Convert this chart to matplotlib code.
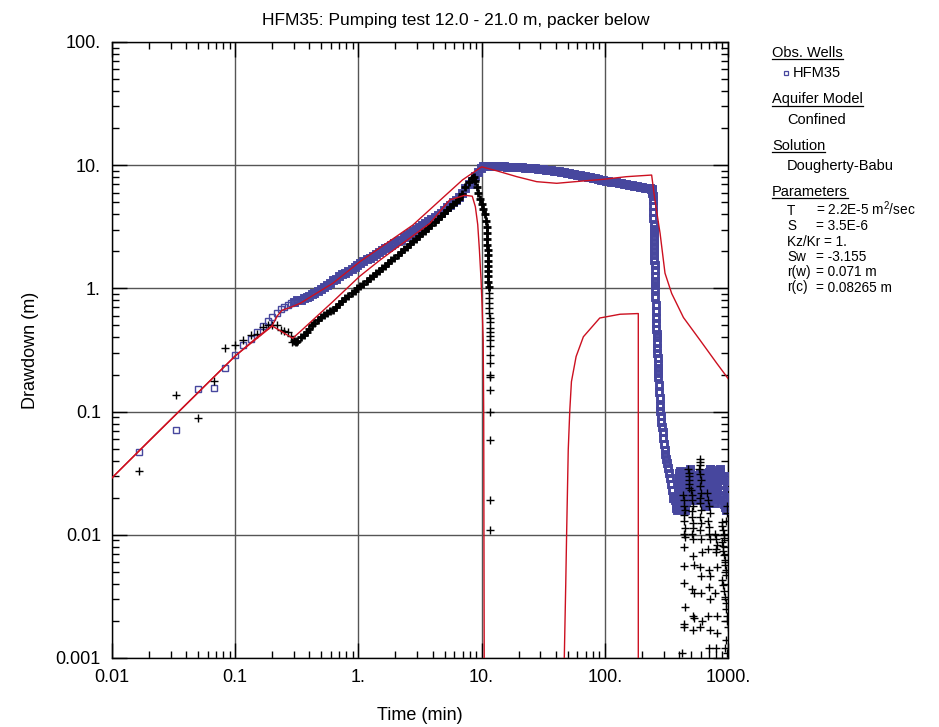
import matplotlib
matplotlib.use("Agg")
import matplotlib.pyplot as plt
from matplotlib.lines import Line2D
from matplotlib.ticker import FixedLocator, FixedFormatter, LogLocator, NullFormatter

plt.rcParams["font.family"] = ["Liberation Sans", "DejaVu Sans"]
plt.rcParams["mathtext.fontset"] = "custom"
plt.rcParams["mathtext.rm"] = "Liberation Sans"
plt.rcParams["mathtext.it"] = "Liberation Sans"

# ---- observed drawdown, HFM35 (time in min, drawdown in m) ----------------
obs_t_early = [0.0167, 0.0333, 0.05, 0.0667, 0.0833, 0.1, 0.1167, 0.1333, 0.15,
               0.1667, 0.1833, 0.2, 0.2167, 0.2333, 0.25, 0.2667, 0.2833]
obs_d_early = [0.047, 0.071, 0.152, 0.155, 0.226, 0.288, 0.347, 0.386, 0.44,
               0.495, 0.54, 0.586, 0.628, 0.675, 0.706, 0.73, 0.755]

obs_t_pump = [0.3, 0.32, 0.34, 0.36, 0.38, 0.40, 0.42, 0.44, 0.47, 0.50, 0.53,
              0.56, 0.59, 0.62, 0.66, 0.70, 0.74, 0.78, 0.83, 0.88, 0.93, 0.98,
              1.04, 1.10, 1.17, 1.24, 1.31, 1.39, 1.47, 1.56, 1.65, 1.75, 1.85,
              1.96, 2.08, 2.2, 2.33, 2.47, 2.62, 2.77, 2.94, 3.11, 3.3, 3.5,
              3.7, 3.92, 4.15, 4.4, 4.66, 4.94, 5.23, 5.54, 5.87, 6.22, 6.59,
              6.98, 7.4, 7.84, 8.3, 8.8, 9.3, 9.8, 10.2]
obs_d_pump = [0.78, 0.80, 0.81, 0.83, 0.85, 0.875, 0.90, 0.92, 0.96, 0.99, 1.03,
              1.07, 1.10, 1.16, 1.20, 1.25, 1.30, 1.34, 1.39, 1.45, 1.50, 1.55,
              1.60, 1.66, 1.72, 1.78, 1.84, 1.91, 1.97, 2.04, 2.11, 2.18, 2.25,
              2.33, 2.41, 2.49, 2.59, 2.69, 2.80, 2.91, 3.03, 3.15, 3.27, 3.40,
              3.53, 3.67, 3.81, 3.96, 4.13, 4.33, 4.54, 4.76, 5.00, 5.25, 5.50,
              5.98, 6.48, 6.98, 7.5, 8.15, 8.8, 9.45, 9.85]

obs_t_plateau = [10.6, 11, 11.5, 12, 12.6, 13.2, 13.9, 14.6, 15.3, 16, 16.8,
                 17.6, 18.5, 19.4, 20.4, 21.4, 22.5, 23.6, 24.8, 26, 27.3, 28.7,
                 30.1, 31.6, 33.2, 34.9, 36.6, 38.4, 40.4, 42.4, 44.5, 46.7, 49,
                 51.5, 54, 56.7, 59.6, 62.5, 65.7, 69, 72.4, 76, 79.8, 83.8, 88,
                 92.4, 97, 102, 107, 112, 118, 124, 130, 136, 143, 150, 158, 166,
                 174, 183, 192, 201, 211, 222, 233, 238]
obs_d_plateau = [9.88, 9.88, 9.87, 9.86, 9.85, 9.83, 9.81, 9.79, 9.77, 9.75, 9.72,
                 9.70, 9.67, 9.65, 9.62, 9.59, 9.56, 9.53, 9.50, 9.47, 9.44, 9.40,
                 9.34, 9.28, 9.22, 9.16, 9.10, 9.03, 8.96, 8.90, 8.83, 8.76, 8.69,
                 8.60, 8.52, 8.44, 8.36, 8.28, 8.20, 8.12, 8.04, 7.96, 7.88, 7.80,
                 7.72, 7.63, 7.55, 7.49, 7.43, 7.37, 7.31, 7.25, 7.19, 7.13, 7.07,
                 7.01, 6.95, 6.89, 6.83, 6.77, 6.71, 6.65, 6.59, 6.53, 6.48, 6.45]

obs_t_recovery = [240, 241, 242, 243, 244, 245, 246, 247, 248, 249, 249.5, 250,
                  250.5, 251, 251.5, 252, 252.5, 253, 253.5, 254, 254.5, 255,
                  255.5, 256, 257, 258, 259, 260, 261, 262, 263, 264, 265, 266,
                  267, 268, 269, 270, 271, 272, 274, 276, 278, 280, 282, 285, 288,
                  291, 294, 298, 302, 306, 310, 315, 320, 326, 332, 338, 345, 352,
                  358]
obs_d_recovery = [6.4, 6.3, 6.15, 6.0, 5.6, 5.2, 4.7, 4.2, 3.75, 3.3, 3.05, 2.8,
                  2.6, 2.4, 2.2, 2.0, 1.85, 1.7, 1.55, 1.4, 1.27, 1.15, 1.06,
                  0.98, 0.85, 0.74, 0.65, 0.58, 0.52, 0.47, 0.43, 0.40, 0.36,
                  0.33, 0.30, 0.27, 0.245, 0.225, 0.205, 0.19, 0.165, 0.145,
                  0.128, 0.112, 0.102, 0.092, 0.083, 0.075, 0.068, 0.061, 0.055,
                  0.049, 0.045, 0.041, 0.038, 0.035, 0.032, 0.029, 0.026, 0.023,
                  0.020]

obs_t_tail = [365, 370, 375, 380, 384, 386, 388, 390, 392, 395, 397, 399, 401,
              403, 405, 409, 413, 417, 421, 425, 429, 433, 437, 441, 446, 450,
              454, 458, 462, 466, 470, 474, 478, 482, 486, 490, 495, 500, 505,
              510, 515, 520, 525, 530, 535, 542, 549, 556, 563, 570, 577, 584,
              591, 598, 605, 611, 617, 623, 629, 635, 641, 647, 653, 659, 665,
              670, 675, 680, 685, 690, 695, 700, 705, 710, 715, 720, 727, 734,
              741, 748, 755, 762, 769, 776, 784, 791, 798, 805, 812, 819, 826,
              833, 840, 848, 856, 866, 876, 886, 896, 906, 916, 926, 936, 948,
              960, 966, 972, 978, 984, 990, 995, 1000]
obs_d_tail = [0.020, 0.019, 0.0175, 0.0165, 0.0158, 0.0172, 0.0188, 0.0205,
              0.0222, 0.024, 0.026, 0.0283, 0.030, 0.0318, 0.033, 0.031, 0.0285,
              0.026, 0.024, 0.022, 0.0203, 0.0188, 0.0175, 0.0166, 0.016, 0.0172,
              0.0186, 0.020, 0.0218, 0.0237, 0.0257, 0.028, 0.030, 0.032, 0.0332,
              0.034, 0.032, 0.0295, 0.027, 0.025, 0.023, 0.0215, 0.0203, 0.0195,
              0.019, 0.0205, 0.022, 0.024, 0.026, 0.028, 0.0298, 0.0305, 0.0305,
              0.0315, 0.032, 0.030, 0.028, 0.026, 0.024, 0.022, 0.0205, 0.019,
              0.018, 0.0173, 0.017, 0.0185, 0.020, 0.0218, 0.0238, 0.026, 0.0283,
              0.0305, 0.0322, 0.0333, 0.034, 0.034, 0.032, 0.0298, 0.0275,
              0.0255, 0.0235, 0.0218, 0.0202, 0.019, 0.018, 0.0195, 0.021,
              0.0228, 0.0247, 0.0267, 0.0288, 0.031, 0.0325, 0.0335, 0.034,
              0.0322, 0.030, 0.0278, 0.0255, 0.0232, 0.021, 0.0192, 0.0178,
              0.0168, 0.016, 0.0178, 0.020, 0.0225, 0.025, 0.0272, 0.0288, 0.030]

# ---- derivative data (black crosses) -------------------------------------
der_t_early = [0.0167, 0.0333, 0.05, 0.0667, 0.0833, 0.1, 0.1167, 0.1333, 0.15,
               0.1667, 0.1833, 0.2, 0.2167, 0.2333, 0.25, 0.2667, 0.2833, 0.29]
der_d_early = [0.033, 0.137, 0.089, 0.178, 0.33, 0.345, 0.38, 0.42, 0.43,
               0.49, 0.50, 0.50, 0.50, 0.46, 0.45, 0.44, 0.41, 0.37]

der_t_pump = [0.30, 0.31, 0.32, 0.34, 0.36, 0.38, 0.40, 0.42, 0.44, 0.47, 0.50,
              0.53, 0.56, 0.59, 0.62, 0.66, 0.70, 0.74, 0.78, 0.83, 0.88, 0.93,
              0.98, 1.04, 1.10, 1.17, 1.24, 1.31, 1.39, 1.47, 1.56, 1.65, 1.75,
              1.85, 1.96, 2.08, 2.2, 2.33, 2.47, 2.62, 2.77, 2.94, 3.11, 3.3,
              3.5, 3.7, 3.92, 4.15, 4.4, 4.66, 4.94, 5.23, 5.54, 5.87, 6.22,
              6.59, 6.98, 7.4, 7.84, 8.3, 8.6]
der_d_pump = [0.375, 0.37, 0.375, 0.40, 0.42, 0.44, 0.47, 0.50, 0.52, 0.555,
              0.585, 0.61, 0.63, 0.65, 0.67, 0.71, 0.75, 0.79, 0.83, 0.87, 0.91,
              0.95, 1.0, 1.04, 1.09, 1.15, 1.21, 1.27, 1.33, 1.39, 1.46, 1.53,
              1.61, 1.69, 1.78, 1.88, 1.98, 2.08, 2.18, 2.29, 2.41, 2.53, 2.66,
              2.80, 2.95, 3.12, 3.30, 3.48, 3.68, 3.90, 4.12, 4.36, 4.62, 4.85,
              5.05, 5.3, 5.8, 6.6, 7.3, 7.9, 8.07]

# sharp fall after the pump stops: dense part down to ~1 m, then spaced points
der_t_drop = [8.9, 9.15, 9.4, 9.7, 10.0, 10.3, 10.6, 10.8, 11.0, 11.05, 11.1,
              11.15, 11.2, 11.22, 11.25, 11.28, 11.3, 11.33, 11.36, 11.4]
der_d_drop = [7.4, 6.7, 5.9, 5.3, 4.8, 4.4, 4.0, 3.55, 3.15, 2.8, 2.5, 2.25,
              2.05, 1.85, 1.68, 1.52, 1.38, 1.25, 1.13, 1.02]
der_t_fall = [11.43, 11.46, 11.5, 11.53, 11.56, 11.6, 11.63, 11.66, 11.7, 11.72,
              11.74, 11.76, 11.78, 11.8, 11.8, 11.8, 11.8, 11.8, 11.8, 11.8,
              11.8]
der_d_fall = [0.92, 0.84, 0.76, 0.69, 0.63, 0.58, 0.53, 0.48, 0.44, 0.41, 0.38,
              0.34, 0.29, 0.25, 0.20, 0.19, 0.15, 0.10, 0.059, 0.019, 0.011]

der_t_tail = [432, 436, 440, 444, 438, 442, 446, 440, 444, 438, 436, 440, 446,
              436, 440, 421,
              476, 480, 484, 478, 482, 486,
              505, 510, 515, 520, 508, 512, 518, 522, 514, 520, 516, 526, 512,
              530, 516, 528, 522,
              590, 594, 598, 586, 592, 600, 596, 604, 588, 594, 602, 598, 606,
              592, 600, 610, 596, 604, 600, 610, 590,
              680, 690, 700, 710, 685, 695, 705, 715, 688, 702, 720, 695, 710,
              690, 715, 700,
              790, 800, 810, 795, 805, 815, 790, 808, 820, 800,
              890, 900, 910, 920, 930, 895, 905, 915, 925, 940, 950, 960, 970,
              900, 910, 930, 945, 955, 965, 975, 985, 995, 960, 940, 980, 980,
              990, 970]
der_d_tail = [0.021, 0.019, 0.017, 0.016, 0.0145, 0.013, 0.0114, 0.0101, 0.0096,
              0.008, 0.0056, 0.0041, 0.0026, 0.0019, 0.0018, 0.0011,
              0.034, 0.032, 0.030, 0.028, 0.026, 0.024,
              0.023, 0.021, 0.019, 0.017, 0.0155, 0.014, 0.0125, 0.0113, 0.0101,
              0.0093, 0.0067, 0.0057, 0.0036, 0.0034, 0.0022, 0.0021, 0.0017,
              0.041, 0.039, 0.037, 0.034, 0.031, 0.028, 0.025, 0.022, 0.020,
              0.018, 0.016, 0.014, 0.0125, 0.011, 0.0093, 0.0072, 0.0055,
              0.0046, 0.0034, 0.0020, 0.0018,
              0.022, 0.019, 0.017, 0.015, 0.013, 0.0115, 0.0102, 0.0093, 0.0077,
              0.0052, 0.0046, 0.0038, 0.0030, 0.0022, 0.0017, 0.0012,
              0.0101, 0.0092, 0.0083, 0.0077, 0.0072, 0.0055, 0.0034, 0.0022,
              0.0016, 0.0012,
              0.0126, 0.0118, 0.011, 0.0102, 0.0095, 0.0088, 0.0081, 0.0074,
              0.0068, 0.0062, 0.0057, 0.0052, 0.0047, 0.0043, 0.0039, 0.0035,
              0.0031, 0.0028, 0.0025, 0.0022, 0.0020, 0.0018, 0.0014, 0.0012,
              0.0011, 0.017, 0.015, 0.013]

# ---- Dougherty-Babu type curves (red) -------------------------------------
fit_t = [0.01, 0.02, 0.05, 0.1, 0.15, 0.2, 0.22, 0.24, 0.28, 0.34, 0.43, 0.62,
         1.03, 2.77, 5.0, 7.0, 10.0, 13.3, 19.3, 28, 40.7, 67, 97, 150, 240,
         255, 281, 308, 349, 435, 592, 810, 1000]
fit_d = [0.029, 0.058, 0.143, 0.283, 0.40, 0.50, 0.60, 0.665, 0.70, 0.76, 0.88,
         1.1, 1.65, 3.27, 5.6, 7.6, 9.7, 9.0, 8.07, 7.35, 7.13, 7.45, 7.68, 8.07,
         8.32, 5.22, 2.8, 1.33, 0.91, 0.58, 0.381, 0.247, 0.186]

fit_der_t1 = [0.01, 0.1, 0.2, 0.293, 0.336, 0.62, 1.02, 1.5, 3.81, 5.5, 7.3,
              8.4, 8.9, 9.3, 9.6, 9.9, 10.1, 10.3, 10.4, 10.5]
fit_der_d1 = [0.029, 0.283, 0.495, 0.394, 0.445, 0.78, 1.25, 1.70, 3.38, 5.22,
              5.7, 5.6, 4.6, 3.3, 2.05, 1.17, 0.71, 0.38, 0.1, 0.001]
fit_der_t2 = [46.9, 48.2, 49, 50.5, 52, 53.6, 58.5, 67, 91, 133, 187, 187]
fit_der_d2 = [0.001, 0.004, 0.0103, 0.049, 0.103, 0.175, 0.28, 0.405, 0.575,
              0.617, 0.625, 0.001]

x_ticks = [0.01, 0.1, 1, 10, 100, 1000]
x_tick_labels = ["0.01", "0.1", "1.", "10.", "100.", "1000."]
y_ticks = [0.001, 0.01, 0.1, 1, 10, 100]
y_tick_labels = ["0.001", "0.01", "0.1", "1.", "10.", "100."]

BLUE = "#47479e"
RED = "#cc1020"

legend_blocks = [
    ("Obs. Wells", None),
    ("Aquifer Model", ["Confined"]),
    ("Solution", ["Dougherty-Babu"]),
    ("Parameters", None),
]
param_names = ["T", "S", None, "Sw", "r(w)", "r(c)"]
param_values = ["= 2.2E-5 m$^2$/sec", "= 3.5E-6", "Kz/Kr = 1.", "= -3.155",
                "= 0.071 m", "= 0.08265 m"]


def main() -> None:
    W, H = 939, 727
    fig = plt.figure(figsize=(W / 100, H / 100), dpi=100)
    ax = fig.add_axes([112 / W, 1 - 658 / H, 616 / W, 616 / H])
    ax.set_xscale("log")
    ax.set_yscale("log")

    # sparse points thin, dense runs drawn heavier so they merge into bands
    thin_sq = dict(ls="none", marker="s", ms=4.3, mfc="none", mec=BLUE, mew=1.0,
                   zorder=3)
    thick_sq = dict(thin_sq, ms=5.0, mew=2.1)
    ax.plot(obs_t_early, obs_d_early, **thin_sq)
    for t, d in [(obs_t_pump, obs_d_pump), (obs_t_plateau, obs_d_plateau),
                 (obs_t_recovery, obs_d_recovery), (obs_t_tail, obs_d_tail)]:
        ax.plot(t, d, **thick_sq)

    thin_pl = dict(ls="none", marker="+", ms=5.5, color="black", mew=1.0,
                   zorder=4)
    thick_pl = dict(thin_pl, ms=6.0, mew=2.0)
    ax.plot(der_t_early, der_d_early, **thin_pl)
    ax.plot(der_t_pump, der_d_pump, **thick_pl)
    ax.plot(der_t_drop, der_d_drop, **thick_pl)
    ax.plot(der_t_fall, der_d_fall, **thin_pl)
    ax.plot(der_t_tail, der_d_tail, **thin_pl)

    ax.plot(fit_t, fit_d, color=RED, lw=1.0, zorder=5)
    ax.plot(fit_der_t1, fit_der_d1, color=RED, lw=1.0, zorder=5)
    ax.plot(fit_der_t2, fit_der_d2, color=RED, lw=1.0, zorder=5)

    ax.set_xlim(0.01, 1000)
    ax.set_ylim(0.001, 100)
    for axis, ticks, labels in [(ax.xaxis, x_ticks, x_tick_labels),
                                (ax.yaxis, y_ticks, y_tick_labels)]:
        axis.set_major_locator(FixedLocator(ticks))
        axis.set_major_formatter(FixedFormatter(labels))
        axis.set_minor_locator(LogLocator(base=10, subs=range(2, 10)))
        axis.set_minor_formatter(NullFormatter())

    ax.grid(True, which="major", color="#555555", lw=1.0)
    ax.tick_params(which="both", direction="in", top=True, right=True,
                   color="black", width=1.0, labelsize=13, pad=8)
    ax.tick_params(which="major", length=11)
    ax.tick_params(which="minor", length=5)
    for sp in ax.spines.values():
        sp.set_linewidth(1.0)

    fig.text(456 / W, 1 - 21 / H, "HFM35: Pumping test 12.0 - 21.0 m, packer below",
             fontsize=12.5, ha="center", va="center")
    ax.set_xlabel("Time (min)", fontsize=13, labelpad=15)
    ax.set_ylabel("Drawdown (m)", fontsize=13, labelpad=12)

    # legend panel at right -----------------------------------------------
    x_head, x_item, x_eq = 772 / W, 787 / W, 816 / W
    fs = 10.5
    heads = []
    baselines = [56.7, 103.3, 149.5, 195.7]
    for (head, items), yb in zip(legend_blocks, baselines):
        txt = fig.text(x_head, 1 - yb / H, head, fontsize=fs, va="baseline")
        heads.append(txt)
        if items:
            for k, item in enumerate(items):
                fig.text(x_item, 1 - (yb + 20.3 + 15 * k) / H, item,
                         fontsize=fs, va="baseline")
    fig.add_artist(Line2D([786 / W], [1 - 72.5 / H], transform=fig.transFigure,
                          marker="s", ms=3.2, mfc="none", mec=BLUE, mew=0.9,
                          ls="none"))
    fig.text(793 / W, 1 - 76.7 / H, "HFM35", fontsize=fs, va="baseline")

    fs_p = 9.8
    for k, (name, val) in enumerate(zip(param_names, param_values)):
        yb = 1 - (215 + 15.3 * k) / H
        if name is None:
            fig.text(x_item, yb, val, fontsize=fs_p, va="baseline")
        else:
            fig.text(x_item, yb, name, fontsize=fs_p, va="baseline")
            fig.text(x_eq, yb, val, fontsize=fs_p, va="baseline")

    fig.canvas.draw()
    renderer = fig.canvas.get_renderer()
    for txt, yb in zip(heads, baselines):
        bb = txt.get_window_extent(renderer).transformed(fig.transFigure.inverted())
        y_line = 1 - (yb + 2.2) / H
        fig.add_artist(Line2D([bb.x0, bb.x1], [y_line, y_line],
                              transform=fig.transFigure, color="black", lw=0.9))

    fig.savefig("out.png", dpi=100)
    plt.close(fig)


if __name__ == "__main__":
    main()
